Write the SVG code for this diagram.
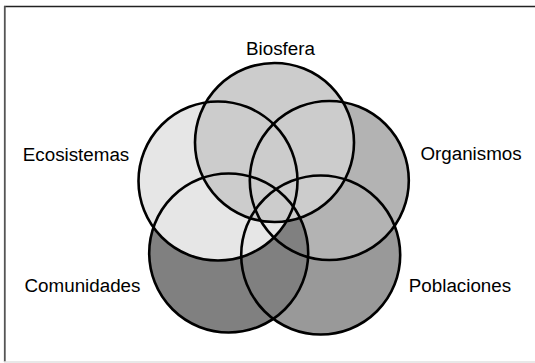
<svg xmlns="http://www.w3.org/2000/svg" width="535" height="363" viewBox="0 0 535 363">
<style>
.lbl{font-family:"Liberation Sans",Arial,sans-serif;font-size:18.8px;fill:#000;text-anchor:middle}
.ol{fill:none;stroke:#000;stroke-width:2.6}
</style>
<rect width="535" height="363" fill="#fff"/>
<g id="frame">
<line x1="4" y1="6.5" x2="535" y2="6.5" stroke="#222" stroke-width="1.5"/>
<line x1="4.8" y1="6" x2="4.8" y2="362" stroke="#555" stroke-width="1.8"/>
<line x1="4" y1="362" x2="535" y2="362" stroke="#e0e0e0" stroke-width="1.5"/>
</g>
<g id="poblaciones"><circle cx="320.7" cy="255" r="79.5" fill="#999999"/><text class="lbl" x="460" y="292">Poblaciones</text></g>
<g id="organismos"><circle cx="329.3" cy="180.5" r="79.5" fill="#b3b3b3"/><text class="lbl" x="471" y="160">Organismos</text></g>
<g id="comunidades"><circle cx="228.7" cy="253" r="79.5" fill="#808080"/><text class="lbl" x="82.5" y="292">Comunidades</text></g>
<g id="ecosistemas"><circle cx="218" cy="181" r="79.5" fill="#e6e6e6"/><text class="lbl" x="76" y="160.5">Ecosistemas</text></g>
<g id="biosfera"><circle cx="274.5" cy="142.5" r="79.5" fill="#cccccc"/><text class="lbl" x="280.5" y="54.5">Biosfera</text></g>
<g id="connectors">
<circle class="ol" cx="320.7" cy="255" r="79.5"/>
<circle class="ol" cx="329.3" cy="180.5" r="79.5"/>
<circle class="ol" cx="228.7" cy="253" r="79.5"/>
<circle class="ol" cx="218" cy="181" r="79.5"/>
<circle class="ol" cx="274.5" cy="142.5" r="79.5"/>
</g>
</svg>
